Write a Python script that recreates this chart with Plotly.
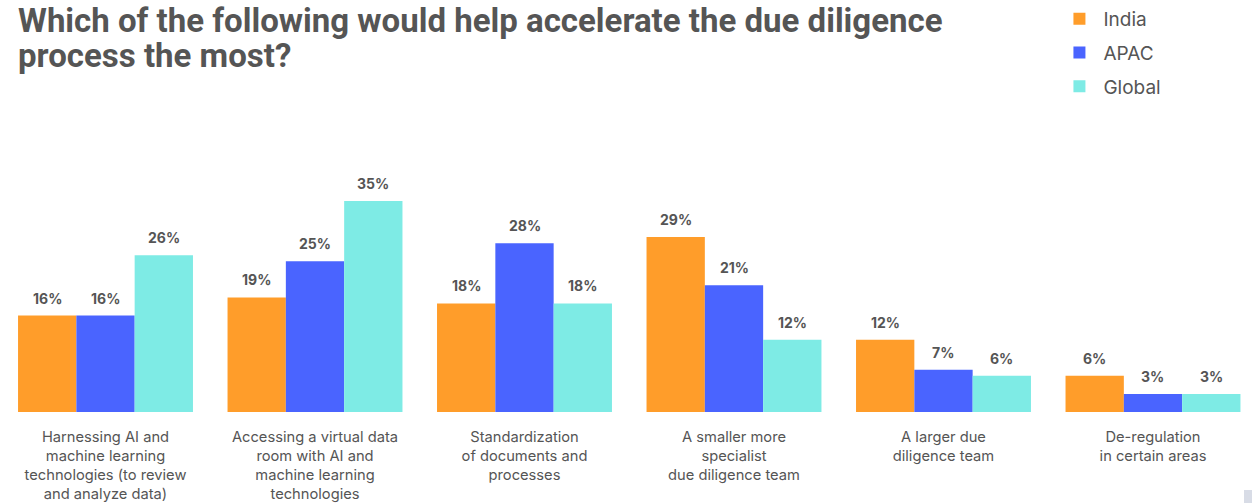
import plotly.graph_objects as go

categories = [
    "Harnessing AI and<br>machine learning<br>technologies (to review<br>and analyze data)",
    "Accessing a virtual data<br>room with AI and<br>machine learning<br>technologies",
    "Standardization<br>of documents and<br>processes",
    "A smaller more<br>specialist<br>due diligence team",
    "A larger due<br>diligence team",
    "De-regulation<br>in certain areas",
]
india = [16, 19, 18, 29, 12, 6]
apac = [16, 25, 28, 21, 7, 3]
global_ = [26, 35, 18, 12, 6, 3]
title_lines = ["Which of the following would help accelerate the due diligence", "process the most?"]

series = [("India", india, "#FF9D2A"), ("APAC", apac, "#4A64FF"), ("Global", global_, "#7EEBE5")]
BARGAP = 0.165
bar_w = (1 - BARGAP) / len(series)

fig = go.Figure()
for j, (name, vals, color) in enumerate(series):
    fig.add_trace(go.Bar(
        name=name, x=list(range(len(categories))), y=vals,
        marker=dict(color=color, line=dict(width=0)),
        legendgroup=name, hoverinfo="y",
    ))
    for i, v in enumerate(vals):
        fig.add_annotation(
            x=i + (j - (len(series) - 1) / 2) * bar_w, y=v, xref="x", yref="y",
            text=f"<b>{v}%</b>", showarrow=False, yanchor="bottom", yshift=7,
            font=dict(family="Inter", size=14, color="#555555"),
        )

for k, (line, ypx) in enumerate(zip(title_lines, [20, 55])):
    fig.add_annotation(
        x=16 / 1252, y=(412 - ypx) / 302, xref="paper", yref="paper",
        xanchor="left", yanchor="middle", showarrow=False,
        text=f"<b>{line}</b>", font=dict(family="Roboto", size=33, color="#555555"),
    )

fig.update_layout(
    width=1252, height=503,
    margin=dict(l=0, r=0, t=110, b=91, autoexpand=False),
    paper_bgcolor="white", plot_bgcolor="white",
    barmode="group", bargap=BARGAP, bargroupgap=0,
    font=dict(family="Inter", color="#555555"),
    legend=dict(
        x=0.843, xanchor="left", y=1.0, yanchor="top", yref="container",
        font=dict(family="Inter", size=19, color="#555555"),
        tracegroupgap=6, bgcolor="rgba(0,0,0,0)", itemwidth=38,
    ),
    showlegend=True,
)
fig.update_xaxes(
    range=[-0.5036, 5.4726], showgrid=False, showline=False, zeroline=False,
    ticks="", tickmode="array", tickvals=list(range(len(categories))), ticktext=categories,
    ticklabelstandoff=14, automargin=False,
    tickfont=dict(family="Inter", size=14.7, color="#555555"),
)
fig.update_yaxes(range=[0, 50.08], visible=False, showgrid=False, zeroline=False, automargin=False)

fig.add_shape(type="rect", xref="paper", yref="paper", x0=1244 / 1252, x1=1.0,
              y0=(412 - 503) / 302, y1=(412 - 490) / 302,
              fillcolor="#D8DCE6", line=dict(width=0))

fig.write_html("out.html")
